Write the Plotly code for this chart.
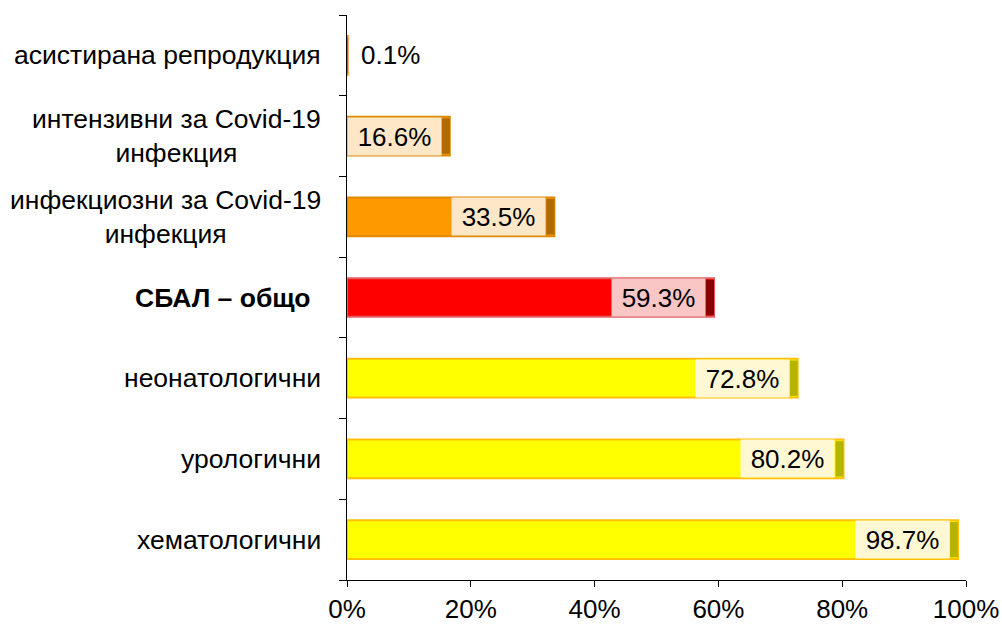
import plotly.graph_objects as go

categories = ["хематологични", "урологични", "неонатологични", "СБАЛ – общо",
              "инфекциозни за Covid-19<br>инфекция", "интензивни за Covid-19<br>инфекция",
              "асистирана репродукция"]
values = [98.7, 80.2, 72.8, 59.3, 33.5, 16.6, 0.1]
value_labels = ["98.7%", "80.2%", "72.8%", "59.3%", "33.5%", "16.6%", "0.1%"]
x_ticks = [0, 20, 40, 60, 80, 100]
x_tick_labels = ["0%", "20%", "40%", "60%", "80%", "100%"]

bar_colors = ["#FFFF00", "#FFFF00", "#FFFF00", "#FF0000", "#FF9900", "#FF9900", "#FF9900"]
line_colors = ["#FFC000", "#FFC000", "#FFC000", "#E06060", "#E08800", "#E08800", "#E08800"]
cap_colors = ["#B5B500", "#B5B500", "#B5B500", "#8B0000", "#B06A00", "#B06A00", "#B06A00"]
label_bg = ["rgba(255,248,222,0.95)", "rgba(255,248,222,0.95)", "rgba(255,248,222,0.95)",
            "rgba(250,208,208,0.95)", "rgba(253,235,210,0.95)", "rgba(253,235,210,0.95)",
            "rgba(253,235,210,0.95)"]
cap = 1.3
font = "Liberation Sans, Arial, sans-serif"
fs = 26
fs_cat = 26.5

ycat = list(range(len(categories)))

fig = go.Figure()
fig.add_trace(go.Bar(
    y=ycat, x=values, orientation="h", width=0.48,
    marker=dict(color=bar_colors, line=dict(color=line_colors, width=2)),
    hoverinfo="skip", showlegend=False))
cap_vals = [min(cap, v) for v in values]
fig.add_trace(go.Bar(
    y=ycat, x=cap_vals, base=[v - c for v, c in zip(values, cap_vals)], orientation="h",
    width=0.44, marker=dict(color=cap_colors, line=dict(width=0)),
    hoverinfo="skip", showlegend=False))

annotations = []
for i, (v, lab) in enumerate(zip(values, value_labels)):
    if v < 5:
        annotations.append(dict(x=v, y=i, xref="x", yref="y", text=lab, showarrow=False,
                                xanchor="left", xshift=11, font=dict(size=fs, color="black", family=font)))
    else:
        annotations.append(dict(x=v - cap, y=i, xref="x", yref="y", text=lab, showarrow=False,
                                xanchor="right", bgcolor=label_bg[i], height=37, borderpad=0,
                                width=93,
                                font=dict(size=fs, color="black", family=font)))
for i, c in enumerate(categories):
    txt = "<b>" + c + "</b>" if "СБАЛ" in c else c
    annotations.append(dict(x=0, y=i, xref="paper", yref="y", text=txt, showarrow=False,
                            xanchor="right", align="center",
                            xshift=-35 if "СБАЛ" in c else -24,
                            font=dict(size=fs_cat, color="black", family=font)))

fig.update_layout(
    width=1002, height=624,
    margin=dict(l=347, r=36, t=15, b=44, autoexpand=False),
    paper_bgcolor="white", plot_bgcolor="white",
    barmode="overlay", bargap=0.5,
    annotations=annotations,
    xaxis=dict(range=[0, 100], tickvals=x_ticks, ticktext=x_tick_labels,
               showgrid=False, zeroline=False, showline=True, linecolor="black", linewidth=1,
               ticks="outside", ticklen=6, tickcolor="black", automargin=False,
               tickfont=dict(size=fs, color="black", family=font)),
    yaxis=dict(range=[-0.5, 6.5], tickmode="array", automargin=False,
               tickvals=[i - 0.5 for i in range(len(categories) + 1)], showticklabels=False,
               showgrid=False, zeroline=False, showline=True, linecolor="black", linewidth=1,
               ticks="outside", ticklen=7, tickcolor="black"),
)

fig.write_html("out.html", config={"displayModeBar": False},
               post_script="document.body.style.margin='0';document.body.style.padding='0';")
